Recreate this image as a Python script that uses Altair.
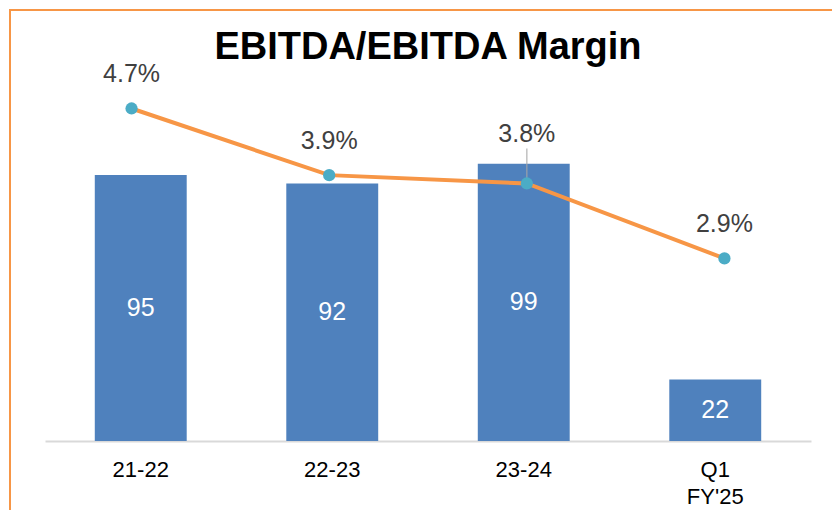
import altair as alt
import pandas as pd

categories = ["21-22", "22-23", "23-24", "Q1\nFY'25"]
ebitda = [95, 92, 99, 22]
margin = [4.7, 3.9, 3.8, 2.9]

df = pd.DataFrame({"cat": categories, "ebitda": ebitda, "margin": margin})

W, H = 766, 346
FONT = "Liberation Sans"

xband = alt.X("cat:N", sort=categories,
              scale=alt.Scale(paddingInner=0.52, paddingOuter=0.26),
              axis=alt.Axis(title=None, labelAngle=0, labelFontSize=22, labelColor="#000000",
                            labelFont=FONT, labelPadding=18, ticks=False, tickSize=0,
                            domainColor="#d9d9d9", domainWidth=2, grid=False,
                            labelExpr="split(datum.label, '\\n')", labelLineHeight=27))
ybar = alt.Y("ebitda:Q", scale=alt.Scale(domain=[0, 123.6], nice=False, zero=True), axis=None)

base = alt.Chart(df)
bars = base.mark_bar(color="#4F81BD").encode(x=xband, y=ybar)
bar_txt = base.transform_calculate(half="datum.ebitda / 2").mark_text(
    color="white", fontSize=25, font=FONT, baseline="middle").encode(
    x=xband, y=alt.Y("half:Q", scale=alt.Scale(domain=[0, 123.6], nice=False), axis=None),
    text="ebitda:Q")
bar_layer = alt.layer(bars, bar_txt)

xpt = alt.X("cat:N", sort=categories, scale=alt.Scale(type="point", padding=0.438), axis=None)
yline = alt.Y("margin:Q", scale=alt.Scale(domain=[0.708, 4.862], nice=False, zero=False), axis=None)

line = base.mark_line(color="#F79646", strokeWidth=4).encode(x=xpt, y=yline)
pts = base.mark_point(filled=True, color="#4BACC6", size=150, opacity=1).encode(x=xpt, y=yline)
lbase = base.transform_calculate(lab="format(datum.margin, '.1f') + '%'")
txt = lbase.transform_filter("datum.cat != '23-24'").mark_text(
    color="#404040", fontSize=25, font=FONT, dy=-34, baseline="middle").encode(
    x=xpt, y=yline, text="lab:N")
txt2 = lbase.transform_filter("datum.cat == '23-24'").mark_text(
    color="#404040", fontSize=25, font=FONT, dy=-49, baseline="middle").encode(
    x=xpt, y=yline, text="lab:N")
leader = lbase.transform_filter("datum.cat == '23-24'").mark_tick(
    orient="vertical", color="#a6a6a6", thickness=1.5, size=30, yOffset=-20).encode(x=xpt, y=yline)
line_layer = alt.layer(leader, line, pts, txt, txt2)

frame = alt.Chart(pd.DataFrame({"a": [0]}))
border_left = frame.mark_rule(stroke="#F79646", strokeWidth=2).encode(
    x=alt.value(-35), y=alt.value(-85), y2=alt.value(H + 69))
border_top = frame.mark_rule(stroke="#F79646", strokeWidth=2).encode(
    x=alt.value(-36), x2=alt.value(W + 21), y=alt.value(-85))

chart = alt.layer(border_left, border_top, bar_layer, line_layer).resolve_scale(
    x="independent", y="independent").properties(
    width=W, height=H,
    title=alt.TitleParams("EBITDA/EBITDA Margin", fontSize=38, font=FONT, fontWeight="bold",
                          color="#000000", anchor="middle", offset=0, dy=88,
                          baseline="alphabetic"),
    padding={"left": 37, "top": 87, "right": 21, "bottom": 70},
    autosize=alt.AutoSizeParams(type="none"),
).configure(background="white").configure_view(stroke=None)

chart.save("out.html", embed_options={"renderer": "svg", "actions": False})
